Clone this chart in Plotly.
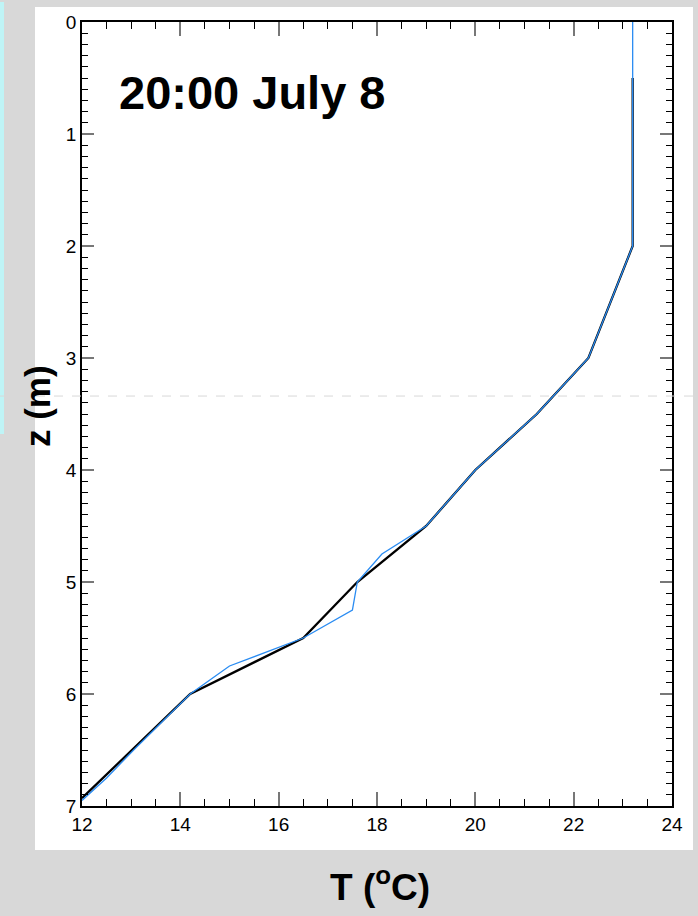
import plotly.graph_objects as go

# ---- data ----
T_obs = [23.2, 23.2, 22.3, 21.25, 20.0, 19.0, 18.1, 17.6, 17.5, 16.5, 15.0, 14.2, 13.05, 12.5, 12.0]
z_obs = [0.0, 2.0, 3.0, 3.5, 4.0, 4.5, 4.75, 5.0, 5.25, 5.5, 5.75, 6.0, 6.5, 6.75, 6.95]

T_fit = [23.2, 23.2, 22.3, 21.25, 20.0, 19.0, 17.6, 16.5, 14.2, 12.0]
z_fit = [0.5, 2.0, 3.0, 3.5, 4.0, 4.5, 5.0, 5.5, 6.0, 6.93]

x_ticks = [12, 14, 16, 18, 20, 22, 24]
y_ticks = [0, 1, 2, 3, 4, 5, 6, 7]

title_text = "20:00 July 8"
x_title = "T (<sup>o</sup>C)"
y_title = "z (m)"

FONT = "Liberation Sans, Arial, Helvetica, sans-serif"
W, H = 698, 916
L, R, T, B = 82, 26, 20, 110
PW, PH = W - L - R, H - T - B


def px(x):
    return (x - L) / PW


def py(y):
    return (H - B - y) / PH


fig = go.Figure()
fig.add_trace(go.Scatter(x=T_fit, y=z_fit, mode="lines",
                         line=dict(color="#000000", width=2.3), showlegend=False))
fig.add_trace(go.Scatter(x=T_obs, y=z_obs, mode="lines",
                         line=dict(color="#2a8cf2", width=1.3), showlegend=False))

shapes = [
    # white panel
    dict(type="rect", xref="paper", yref="paper", x0=px(35), x1=px(693), y0=py(850), y1=py(5),
         fillcolor="white", line=dict(width=0), layer="below"),
    # cyan strip
    dict(type="rect", xref="paper", yref="paper", x0=px(0), x1=px(4), y0=py(433), y1=py(0),
         fillcolor="#bff4f6", line=dict(width=0), layer="below"),
    # faint horizontal line
    dict(type="line", xref="paper", yref="paper", x0=px(0), x1=px(698), y0=py(395), y1=py(395),
         line=dict(color="#d8d8d8", width=1, dash="dash"), layer="above"),
]

annotations = [
    dict(text="<b>" + title_text + "</b>", xref="paper", yref="paper", x=px(117), y=py(91),
         xanchor="left", yanchor="middle", showarrow=False,
         font=dict(family=FONT, size=47, color="black")),
    dict(text="<b>" + x_title + "</b>", xref="paper", yref="paper", x=px(380), y=py(885),
         xanchor="center", yanchor="middle", showarrow=False,
         font=dict(family=FONT, size=37, color="black")),
    dict(text="<b>" + y_title + "</b>", xref="paper", yref="paper", x=px(37), y=py(405),
         xanchor="center", yanchor="middle", textangle=-90, showarrow=False,
         font=dict(family=FONT, size=35, color="black")),
]

fig.update_layout(
    width=W, height=H,
    margin=dict(l=L, r=R, t=T, b=B),
    paper_bgcolor="#d8d8d8",
    plot_bgcolor="white",
    shapes=shapes,
    annotations=annotations,
    font=dict(family=FONT, size=19, color="black"),
)
fig.update_xaxes(range=[12, 24], tickvals=x_ticks, ticktext=[str(v) for v in x_ticks],
                 showgrid=False, zeroline=False, showline=True, linecolor="black", linewidth=1.5,
                 mirror="allticks", ticks="inside", ticklen=14, tickcolor="#777777", tickwidth=1.5,
                 minor=dict(dtick=0.5, ticks="inside", ticklen=7, tickcolor="black", tickwidth=1,
                            showgrid=False),
                 tickfont=dict(family=FONT, size=19, color="black"))
fig.update_yaxes(range=[7, 0], tickvals=y_ticks, ticktext=[str(v) for v in y_ticks],
                 showgrid=False, zeroline=False, showline=True, linecolor="black", linewidth=1.5,
                 mirror="allticks", ticks="inside", ticklen=12, tickcolor="#777777", tickwidth=1.5,
                 minor=dict(dtick=0.1, ticks="inside", ticklen=6, tickcolor="black", tickwidth=1,
                            showgrid=False),
                 tickfont=dict(family=FONT, size=19, color="black"))

fig.write_html("out.html", config={"displayModeBar": False},
               post_script="document.body.style.margin='0';")
